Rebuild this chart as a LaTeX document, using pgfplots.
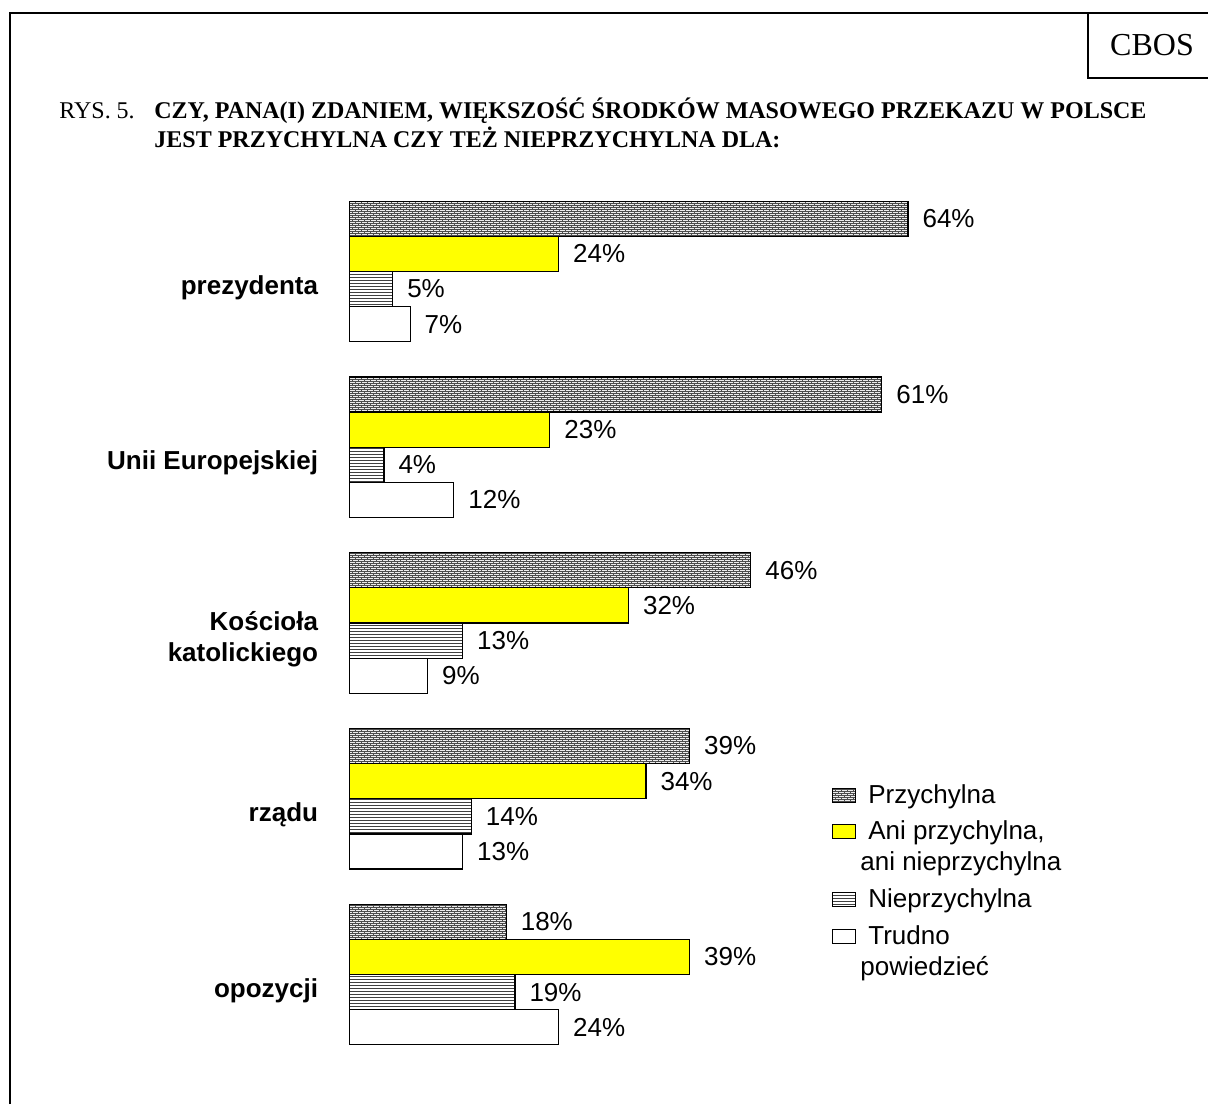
\documentclass[border=0pt]{standalone}
\usepackage{fontspec}
\setmainfont{Liberation Serif}
\setsansfont{Liberation Sans}
\usepackage{pgfplots}
\pgfplotsset{compat=1.18}
\usetikzlibrary{patterns.meta}

\definecolor{barYellow}{RGB}{255,255,0}

% fine brick pattern (Przychylna)
\tikzdeclarepattern{
  name=minibricks,
  type=uncolored,
  bounding box={(-0.2pt,-0.2pt) and (3.2pt,2.2pt)},
  tile size={(3pt,2pt)},
  code={
    \draw[line width=0.35pt]
      (0,0.5pt) -- (3pt,0.5pt)
      (0,1.5pt) -- (3pt,1.5pt)
      (0.75pt,0.5pt) -- (0.75pt,1.5pt)
      (2.25pt,1.5pt) -- (2.25pt,2pt)
      (2.25pt,0pt) -- (2.25pt,0.5pt);
  }
}
% fine horizontal lines (Nieprzychylna)
\tikzdeclarepattern{
  name=minilines,
  type=uncolored,
  bounding box={(-0.2pt,-0.2pt) and (3.2pt,1.7pt)},
  tile size={(3pt,1.5pt)},
  code={
    \draw[line width=0.4pt] (0,0.75pt) -- (3pt,0.75pt);
  }
}

% legend boxes: one-line entry, and entry whose box sits on the first of two lines
\pgfplotsset{
  box legend/.style={legend image code/.code={\draw[##1] (0pt,-3.5pt) rectangle (11.5pt,3.5pt); \path (15.5pt,0pt);}},
  box legend up/.style={legend image code/.code={\draw[##1] (0pt,4.5pt) rectangle (11.5pt,11.5pt); \path (15.5pt,0pt);}},
}

\newcommand\lab{\sffamily\fontsize{13}{15.5}\selectfont}

\begin{document}
\begin{tikzpicture}
\useasboundingbox (0,0) rectangle (604pt,552pt);
% frame
\draw[line width=1pt] (5pt,0) -- (5pt,545.5pt) -- (604pt,545.5pt);
\draw[line width=1pt] (544pt,545.5pt) -- (544pt,513pt) -- (604pt,513pt);
\node at (576pt,529.5pt) {\fontsize{16}{18}\selectfont CBOS};
% title
\node[anchor=base west, inner sep=0pt] at (29.5pt,492.5pt) {\fontsize{12}{14}\selectfont RYS. 5.};
\node[anchor=base west, inner sep=0pt] at (77pt,492.5pt) {\fontsize{12}{14}\selectfont\bfseries CZY, PANA(I) ZDANIEM, WIĘKSZOŚĆ ŚRODKÓW MASOWEGO PRZEKAZU W POLSCE};
\node[anchor=base west, inner sep=0pt] at (77pt,478pt) {\fontsize{12}{14}\selectfont\bfseries JEST PRZYCHYLNA CZY TEŻ NIEPRZYCHYLNA DLA:};

\begin{axis}[
    at={(174.5pt,20.8pt)}, anchor=south west,
    scale only axis,
    width=349.35pt, height=439.4pt,
    xbar,
    bar width=0.2,
    xmin=0, xmax=80,
    ymin=-0.5, ymax=4.5,
    y dir=reverse,
    axis line style={draw=none},
    xtick=\empty,
    ytick={0,1,2,3,4},
    yticklabels={prezydenta,Unii Europejskiej,{Kościoła\\katolickiego},rządu,opozycji},
    ytick style={draw=none},
    yticklabel style={font=\lab\bfseries, align=right, inner sep=0pt, xshift=-11pt, yshift=-8pt},
    /pgf/number format/assume math mode=true,
    nodes near coords={\pgfmathprintnumber{\pgfplotspointmeta}\%},
    every node near coord/.append style={font=\lab, anchor=west, inner sep=0pt, xshift=7pt},
    every axis plot/.append style={draw=black, line width=0.6pt},
    box legend,
    legend cell align=left,
    legend style={at={(0.691,0.3215)}, anchor=north west, draw=none, fill=none,
      font=\lab, inner sep=0pt, row sep=3.5pt,
      cells={align=left}},
]
\addplot[bar shift=-0.3, fill=gray!15, postaction={pattern=minibricks, pattern color=black!70}]
  coordinates {(64,0) (61,1) (46,2) (39,3) (18,4)};
\addplot[bar shift=-0.1, fill=barYellow, box legend up]
  coordinates {(24,0) (23,1) (32,2) (34,3) (39,4)};
\addplot[bar shift=0.1, fill=white, postaction={pattern=minilines, pattern color=black!75}]
  coordinates {(5,0) (4,1) (13,2) (14,3) (19,4)};
\addplot[bar shift=0.3, fill=white, box legend up]
  coordinates {(7,0) (12,1) (9,2) (13,3) (24,4)};
\legend{Przychylna,{Ani przychylna,\\\hspace*{-4pt}ani nieprzychylna},Nieprzychylna,{Trudno\\\hspace*{-4pt}powiedzieć}}
\end{axis}
\end{tikzpicture}
\end{document}
